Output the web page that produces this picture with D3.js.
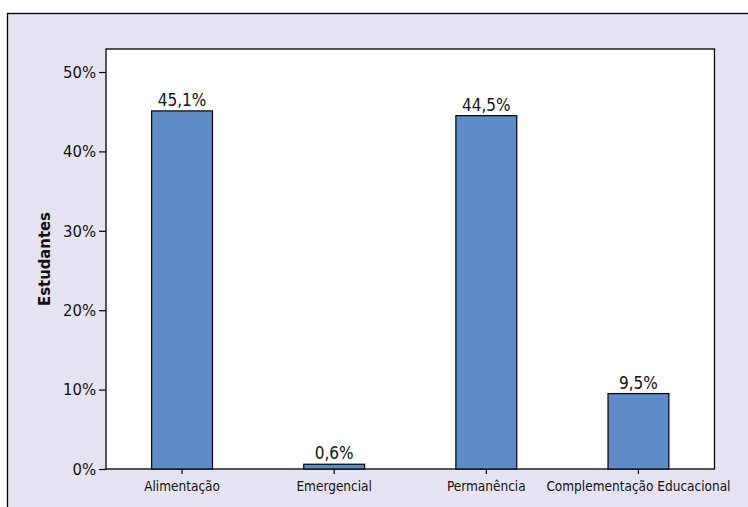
<!DOCTYPE html>
<html>
<head>
<meta charset="utf-8">
<script src="https://cdn.jsdelivr.net/npm/d3@7"></script>
<style>
  body { margin: 0; background: #fff; }
  svg text { font-family: "DejaVu Sans Condensed", "DejaVu Sans", sans-serif; }
</style>
</head>
<body>
<div class="chart"></div>
<script>
var categories = ["Alimentação", "Emergencial", "Permanência", "Complementação Educacional"];
var values = [45.1, 0.6, 44.5, 9.5];
var valueLabels = ["45,1%", "0,6%", "44,5%", "9,5%"];
var yTicks = [0, 10, 20, 30, 40, 50];

var width = 748, height = 507;
var plot = { left: 106, top: 49, right: 714.5, bottom: 469 };
var font = "'DejaVu Sans Condensed', 'DejaVu Sans', sans-serif";

var svg = d3.select(".chart").append("svg")
  .attr("width", width)
  .attr("height", height);

// outer panel
svg.append("rect")
  .attr("x", 7.5).attr("y", 13.5)
  .attr("width", width).attr("height", height)
  .attr("fill", "#e6e4f2")
  .attr("stroke", "#000")
  .attr("stroke-width", 1.3);

svg.append("rect")
  .attr("x", plot.left).attr("y", plot.top)
  .attr("width", plot.right - plot.left)
  .attr("height", plot.bottom - plot.top)
  .attr("fill", "#fff")
  .attr("stroke", "#000")
  .attr("stroke-width", 1.3);

var x = d3.scaleBand()
  .domain(categories)
  .range([plot.left, plot.right])
  .paddingInner(0.6)
  .paddingOuter(0.3);

var y = d3.scaleLinear()
  .domain([0, 50])
  .range([plot.bottom, 72]);

svg.selectAll(".bar")
  .data(values)
  .enter().append("rect")
  .attr("class", "bar")
  .attr("x", function(d, i) { return x(categories[i]); })
  .attr("y", function(d) { return y(d); })
  .attr("width", x.bandwidth())
  .attr("height", function(d) { return y(0) - y(d); })
  .attr("fill", "#5e8cc8")
  .attr("stroke", "#000")
  .attr("stroke-width", 1.2);

svg.selectAll(".val")
  .data(values)
  .enter().append("text")
  .attr("class", "val")
  .attr("x", function(d, i) { return x(categories[i]) + x.bandwidth() / 2; })
  .attr("y", function(d) { return y(d) - 5; })
  .attr("text-anchor", "middle")
  .style("font-size", "17px")
  .attr("fill", "#111")
  .text(function(d, i) { return valueLabels[i]; });

var yAxis = svg.append("g")
  .attr("transform", "translate(" + plot.left + ",0)")
  .call(d3.axisLeft(y).tickValues(yTicks).tickSize(7).tickPadding(3)
    .tickFormat(function(d) { return d + "%"; }));
yAxis.select(".domain").remove();
yAxis.selectAll("text").attr("fill", "#111")
  .style("font-size", "16.5px")
  .style("font-family", font);
yAxis.selectAll("line").attr("stroke-width", 1.2);

var xAxis = svg.append("g")
  .attr("transform", "translate(0," + plot.bottom + ")")
  .call(d3.axisBottom(x).tickSize(5).tickPadding(7));
xAxis.select(".domain").remove();
xAxis.selectAll("text").attr("fill", "#111")
  .style("font-size", "13.5px")
  .style("font-family", font);
xAxis.selectAll("line").attr("stroke-width", 1.2);

svg.append("text")
  .attr("transform", "translate(50," + ((plot.top + plot.bottom) / 2) + ") rotate(-90)")
  .attr("text-anchor", "middle")
  .style("font-size", "16.5px")
  .attr("font-weight", "bold")
  .attr("fill", "#111")
  .text("Estudantes");
</script>
</body>
</html>
